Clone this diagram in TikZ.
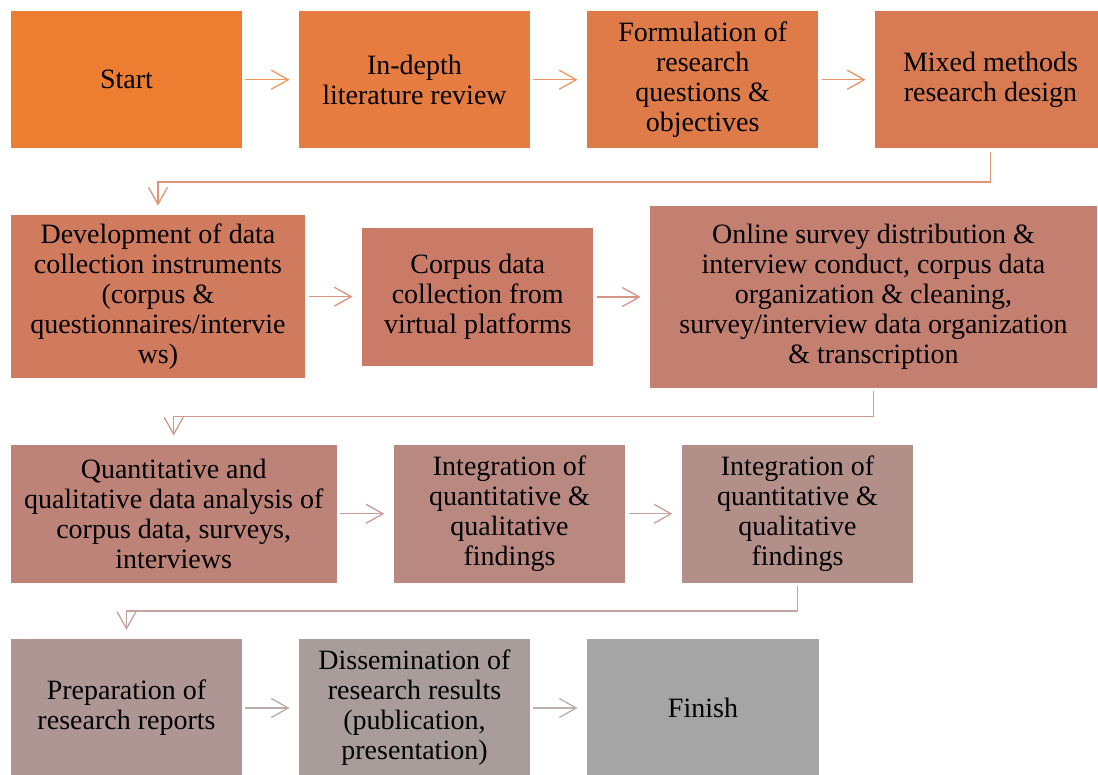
\documentclass[tikz,border=0pt]{standalone}
\usepackage{fontspec}
\setmainfont{Liberation Serif}
\usetikzlibrary{arrows.meta}
\definecolor{c1}{HTML}{ED7D31}
\definecolor{c2}{HTML}{E67C3F}
\definecolor{c3}{HTML}{DF7B49}
\definecolor{c4}{HTML}{D87B53}
\definecolor{c5}{HTML}{D07A5E}
\definecolor{c6}{HTML}{CA7B67}
\definecolor{c7}{HTML}{C37F70}
\definecolor{c8}{HTML}{BE8378}
\definecolor{c9}{HTML}{B98981}
\definecolor{c10}{HTML}{B38F89}
\definecolor{c11}{HTML}{AD9694}
\definecolor{c12}{HTML}{A99D9C}
\definecolor{c13}{HTML}{A5A5A5}
\begin{document}
\begin{tikzpicture}[x=0.5pt,y=-0.5pt,
  box/.style={rectangle, inner sep=0pt, align=center, text=black,
    font=\fontsize{14}{15}\selectfont},
  rowa/.style={box, minimum height=68.65pt},
  conn/.style={draw=#1!80!white, line width=0.65pt,
    -{Straight Barb[length=8.5pt,width=9.5pt]},
    shorten <=1.5pt, shorten >=4.5pt}]
\clip (0,0) rectangle (1098,775);
% row 1
\node[rowa, fill=c1, minimum width=115.5pt] (start) at (126.5,79.7) {Start};
\node[rowa, fill=c2, minimum width=115.5pt] (lit) at (414.5,79.7) {In-depth\\literature review};
\node[rowa, fill=c3, minimum width=115.75pt] (form) at (702.7,79.7) {Formulation of\\research\\questions \&\\objectives};
\node[rowa, fill=c4, minimum width=115.5pt] (mixed) at (990.5,79.7) {Mixed methods\\research design};
% row 2
\node[box, fill=c5, minimum width=147.15pt, minimum height=81.65pt] (dev) at (158,296.7) {Development of data\\collection instruments\\(corpus \&\\questionnaires/intervie\\ws)};
\node[box, fill=c6, minimum width=115.75pt, minimum height=69pt] (corpus) at (477.7,297) {Corpus data\\collection from\\virtual platforms};
\node[box, fill=c7, minimum width=223.5pt, minimum height=91.15pt] (online) at (873.5,296.8) {Online survey distribution \&\\interview conduct, corpus data\\organization \& cleaning,\\survey/interview data organization\\\& transcription};
% row 3
\node[box, fill=c8, minimum width=163pt, minimum height=68.85pt] (quant) at (173.7,513.8) {Quantitative and\\qualitative data analysis of\\corpus data, surveys,\\interviews};
\node[box, fill=c9, minimum width=115.75pt, minimum height=68.85pt] (intA) at (509.5,513.8) {Integration of\\quantitative \&\\qualitative\\findings};
\node[box, fill=c10, minimum width=115.75pt, minimum height=68.85pt] (intB) at (797.5,513.8) {Integration of\\quantitative \&\\qualitative\\findings};
% row 4
\node[rowa, fill=c11, minimum width=115.5pt] (prep) at (126.5,708) {Preparation of\\research reports};
\node[rowa, fill=c12, minimum width=115.5pt] (diss) at (414.5,708) {Dissemination of\\research results\\(publication,\\presentation)};
\node[rowa, fill=c13, minimum width=116pt] (finish) at (703,708) {Finish};
% connectors
\draw[conn=c1] (start.east) -- (lit.west);
\draw[conn=c2] (lit.east) -- (form.west);
\draw[conn=c3] (form.east) -- (mixed.west);
\draw[conn=c4] (mixed.south) -- ++(0,33.4) -| (dev.north);
\draw[conn=c5] (dev.east) -- (dev.east -| corpus.west);
\draw[conn=c6] (corpus.east) -- (corpus.east -| online.west);
\draw[conn=c7] (online.south) -- ++(0,28.3) -| (quant.north);
\draw[conn=c8] (quant.east) -- (intA.west);
\draw[conn=c9] (intA.east) -- (intB.west);
\draw[conn=c10] (intB.south) -- ++(0,28) -| (prep.north);
\draw[conn=c11] (prep.east) -- (diss.west);
\draw[conn=c12] (diss.east) -- (finish.west);
\end{tikzpicture}
\end{document}
